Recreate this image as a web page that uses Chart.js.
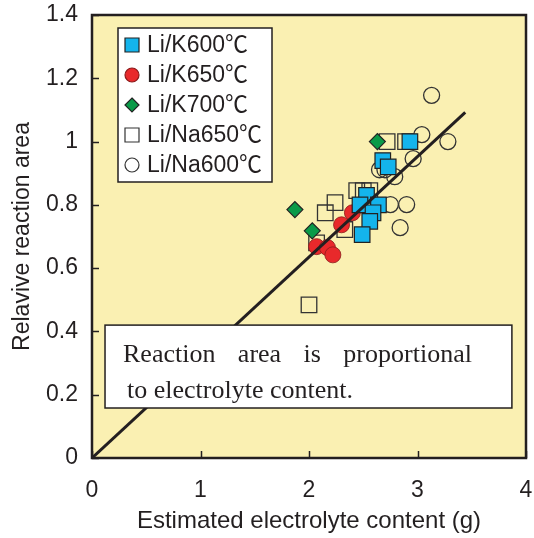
<!DOCTYPE html>
<html>
<head>
<meta charset="utf-8">
<script src="https://cdn.jsdelivr.net/npm/chart.js@4/dist/chart.umd.min.js"></script>
<style>
    body { margin: 0; background: #fff; }
    #chart { display: block; }
</style>
</head>
<body>
<canvas id="chart" width="534" height="538"></canvas>
<script>
// Data
const seriesNames = ['Li/K600℃', 'Li/K650℃', 'Li/K700℃', 'Li/Na650℃', 'Li/Na600℃'];

const liK600X = [2.93, 2.68, 2.73, 2.53, 2.64, 2.47, 2.59, 2.56, 2.49];
const liK600Y = [1.0, 0.94, 0.92, 0.83, 0.80, 0.80, 0.775, 0.748, 0.706];

const liK650X = [2.40, 2.30, 2.07, 2.17, 2.22];
const liK650Y = [0.775, 0.737, 0.668, 0.665, 0.642];

const liK700X = [2.63, 1.87, 2.03];
const liK700Y = [1.0, 0.785, 0.718];

const liNa650X = [2.72, 2.89, 2.44, 2.50, 2.56, 2.24, 2.15, 2.33, 2.07, 2.0];
const liNa650Y = [1.0, 1.0, 0.845, 0.845, 0.845, 0.807, 0.775, 0.722, 0.68, 0.484];

const liNa600X = [3.13, 3.28, 3.04, 2.96, 2.65, 2.70, 2.79, 2.75, 2.90, 2.84];
const liNa600Y = [1.146, 1.0, 1.022, 0.946, 0.911, 0.911, 0.889, 0.801, 0.801, 0.728];

// proportional fit line through origin
const fitX = [0, 3.44];
const fitY = [0, 1.092];

const xTicks = [0, 1, 2, 3, 4];
const yTicks = [0, 0.2, 0.4, 0.6, 0.8, 1, 1.2, 1.4];
const yTickLabels = ['0', '0.2', '0.4', '0.6', '0.8', '1', '1.2', '1.4'];

const noteLines = ['Reaction area is proportional', 'to electrolyte content.'];

const sans = "'Liberation Sans', Arial, 'Noto Sans CJK JP', sans-serif";
const serif = "'Liberation Serif', 'Times New Roman', serif";
const ink = '#231F20';

function toPoints(xs, ys) {
    return xs.map((x, i) => ({ x: x, y: ys[i] }));
}

// Background, frame and inside ticks
const framePlugin = {
    id: 'frame',
    beforeDatasetsDraw(chart) {
        const { ctx, chartArea: a } = chart;
        ctx.save();
        ctx.fillStyle = '#FAF0B2';
        ctx.fillRect(a.left, a.top, a.right - a.left, a.bottom - a.top);
        ctx.restore();
    },
    afterDraw(chart) {
        const { ctx, chartArea: a, scales } = chart;
        ctx.save();
        ctx.strokeStyle = ink;
        ctx.lineWidth = 1.5;
        yTicks.forEach(v => {
            const y = Math.round(scales.y.getPixelForValue(v)) + 0.5;
            ctx.beginPath();
            ctx.moveTo(a.left, y);
            ctx.lineTo(a.left + 7, y);
            ctx.stroke();
        });
        xTicks.forEach(v => {
            const x = Math.round(scales.x.getPixelForValue(v)) + 0.5;
            ctx.beginPath();
            ctx.moveTo(x, a.bottom);
            ctx.lineTo(x, a.bottom - 7);
            ctx.stroke();
        });
        ctx.lineWidth = 2.5;
        ctx.strokeRect(a.left, a.top, a.right - a.left, a.bottom - a.top);
        ctx.restore();
    }
};

function drawMarker(ctx, ds, x, y, r) {
    ctx.save();
    ctx.fillStyle = ds.backgroundColor === 'transparent' ? '#fff' : ds.backgroundColor;
    ctx.strokeStyle = ds.borderColor;
    ctx.lineWidth = 1.2;
    ctx.beginPath();
    if (ds.pointStyle === 'rect') {
        ctx.rect(x - r, y - r, 2 * r, 2 * r);
    } else if (ds.pointStyle === 'rectRot') {
        ctx.moveTo(x, y - r);
        ctx.lineTo(x + r, y);
        ctx.lineTo(x, y + r);
        ctx.lineTo(x - r, y);
        ctx.closePath();
    } else {
        ctx.arc(x, y, r, 0, Math.PI * 2);
    }
    ctx.fill();
    ctx.stroke();
    ctx.restore();
}

// Legend box inside the plot and the text note
const notePlugin = {
    id: 'note',
    afterDatasetsDraw(chart) {
        const { ctx, chartArea: a, scales } = chart;
        ctx.save();

        // legend
        const lx = a.left + 26, ly = a.top + 13, lw = 154, lh = 154;
        ctx.fillStyle = '#fff';
        ctx.fillRect(lx, ly, lw, lh);
        ctx.strokeStyle = ink;
        ctx.lineWidth = 1.5;
        ctx.strokeRect(lx, ly, lw, lh);
        ctx.font = '23px ' + sans;
        ctx.textBaseline = 'middle';
        chart.data.datasets.slice(1).forEach((ds, i) => {
            const cy = ly + 17 + i * 30;
            drawMarker(ctx, ds, lx + 14, cy, 7);
            ctx.fillStyle = ink;
            ctx.fillText(ds.label, lx + 29, cy + 1);
        });

        // note box, placed in data units
        const bx = scales.x.getPixelForValue(0.12);
        const bx2 = scales.x.getPixelForValue(3.87);
        const by = scales.y.getPixelForValue(0.42);
        const by2 = scales.y.getPixelForValue(0.158);
        ctx.fillStyle = '#fff';
        ctx.fillRect(bx, by, bx2 - bx, by2 - by);
        ctx.strokeStyle = ink;
        ctx.lineWidth = 1.5;
        ctx.strokeRect(bx, by, bx2 - bx, by2 - by);

        ctx.font = '26px ' + serif;
        ctx.fillStyle = ink;
        ctx.textBaseline = 'alphabetic';
        // first line justified
        const words = noteLines[0].split(' ');
        const left = bx + 18, right = bx2 - 40;
        const used = words.reduce((s, w) => s + ctx.measureText(w).width, 0);
        const gap = (right - left - used) / (words.length - 1);
        let wx = left;
        words.forEach(w => {
            ctx.fillText(w, wx, by + 37);
            wx += ctx.measureText(w).width + gap;
        });
        ctx.fillText(noteLines[1], bx + 22, by + 73);
        ctx.restore();
    }
};

const datasets = [
    {
        label: 'fit',
        type: 'line',
        data: toPoints(fitX, fitY),
        borderColor: ink,
        borderWidth: 3,
        pointRadius: 0,
        fill: false
    },
    {
        label: seriesNames[0],
        data: toPoints(liK600X, liK600Y),
        pointStyle: 'rect',
        pointRadius: 11,
        backgroundColor: '#14B4EC',
        borderColor: '#222',
        borderWidth: 1.2
    },
    {
        label: seriesNames[1],
        data: toPoints(liK650X, liK650Y),
        pointStyle: 'circle',
        pointRadius: 8,
        backgroundColor: '#E8292B',
        borderColor: '#8a1a1a',
        borderWidth: 0.8
    },
    {
        label: seriesNames[2],
        data: toPoints(liK700X, liK700Y),
        pointStyle: 'rectRot',
        pointRadius: 8,
        backgroundColor: '#0A9A48',
        borderColor: '#222',
        borderWidth: 1.2
    },
    {
        label: seriesNames[3],
        data: toPoints(liNa650X, liNa650Y),
        pointStyle: 'rect',
        pointRadius: 11,
        backgroundColor: 'transparent',
        borderColor: '#333',
        borderWidth: 1.3
    },
    {
        label: seriesNames[4],
        data: toPoints(liNa600X, liNa600Y),
        pointStyle: 'circle',
        pointRadius: 8,
        backgroundColor: 'transparent',
        borderColor: '#333',
        borderWidth: 1.3
    }
];

const chart = new Chart(document.getElementById('chart'), {
    type: 'scatter',
    data: { datasets: datasets },
    options: {
        responsive: false,
        animation: false,
        layout: { autoPadding: false, padding: { left: 0, top: 15, right: 8, bottom: 0 } },
        plugins: {
            legend: { display: false },
            tooltip: { enabled: false }
        },
        elements: { point: { hoverRadius: 0 } },
        scales: {
            x: {
                type: 'linear',
                min: 0,
                max: 4,
                afterFit: s => { s.height = 80; s.paddingLeft = 0; s.paddingRight = 0; },
                afterBuildTicks: s => { s.ticks = xTicks.map(v => ({ value: v })); },
                grid: { display: false, drawTicks: false },
                border: { display: false },
                ticks: { color: ink, font: { family: sans, size: 23 }, padding: 19 },
                title: {
                    display: true,
                    text: 'Estimated electrolyte content (g)',
                    color: ink,
                    font: { family: sans, size: 24 },
                    padding: { top: 0, bottom: 2 }
                }
            },
            y: {
                type: 'linear',
                min: 0,
                max: 1.4,
                afterFit: s => { s.width = 92; s.paddingTop = 0; s.paddingBottom = 0; },
                afterBuildTicks: s => { s.ticks = yTicks.map(v => ({ value: v })); },
                grid: { display: false, drawTicks: false },
                border: { display: false },
                ticks: {
                    color: ink,
                    font: { family: sans, size: 23 },
                    padding: 14,
                    callback: (v) => yTickLabels[yTicks.findIndex(t => Math.abs(t - v) < 1e-6)]
                },
                title: {
                    display: true,
                    text: 'Relavive reaction area',
                    color: ink,
                    font: { family: sans, size: 23 },
                    padding: { top: 9, bottom: 0 }
                }
            }
        }
    },
    plugins: [framePlugin, notePlugin]
});
</script>
</body>
</html>
